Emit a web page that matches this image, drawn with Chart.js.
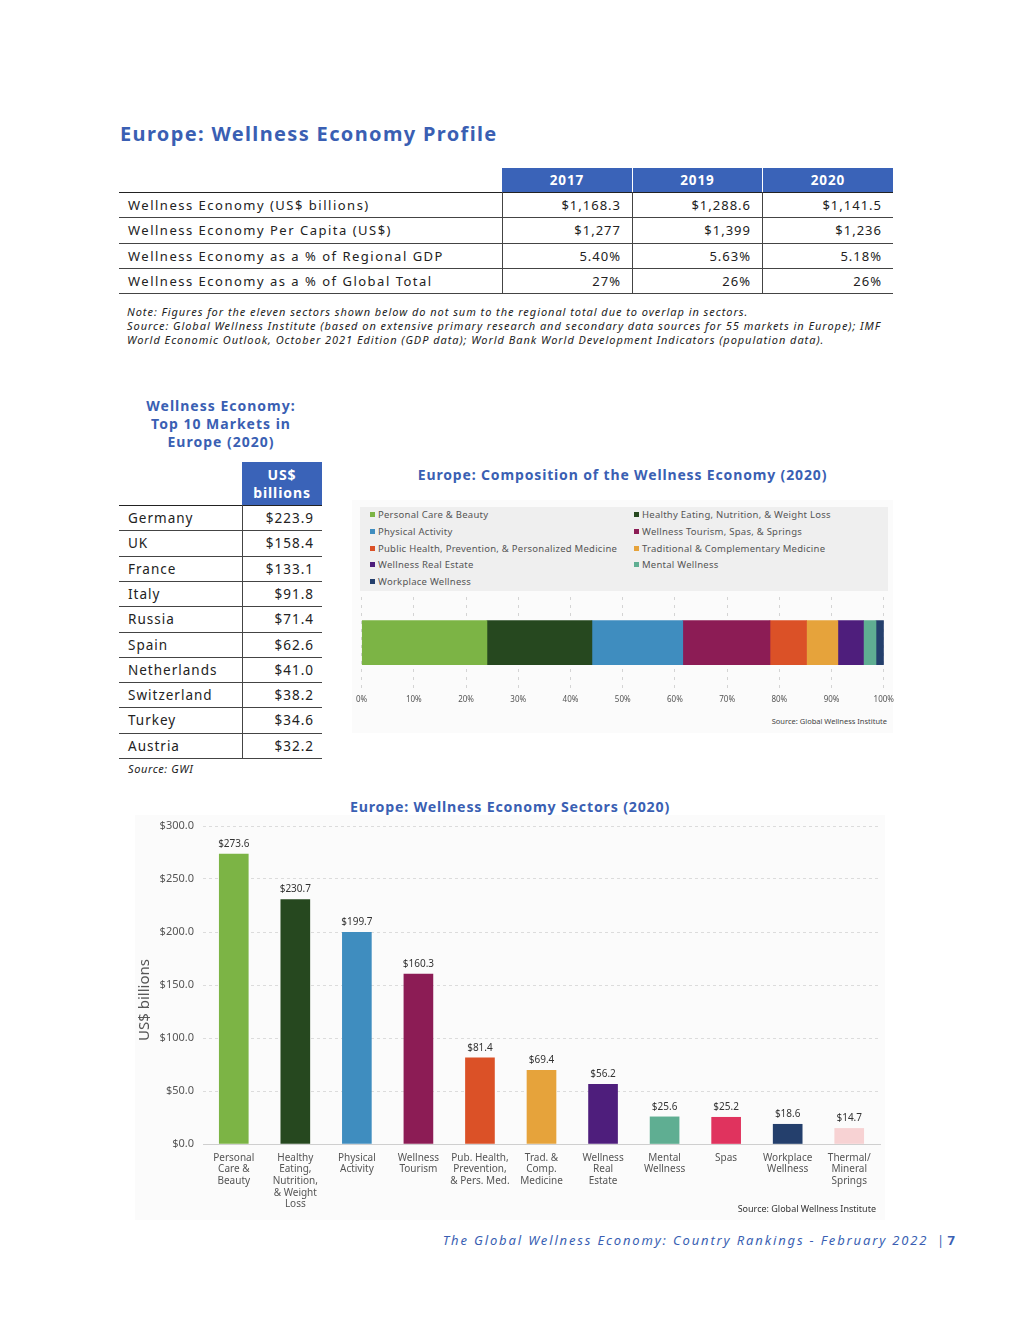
<!DOCTYPE html>
<html>
<head>
<meta charset="utf-8">
<script src="https://cdn.jsdelivr.net/npm/chart.js@4.4.0/dist/chart.umd.min.js"></script>
<style>
  body { margin: 0; background: #fff; font-family: "Noto Sans", sans-serif; color: #222; }
  #page { position: relative; width: 1020px; height: 1320px; }
  .abs { position: absolute; }
  .blue { color: #3a5fb3; }
  .title { font-weight: bold; letter-spacing: 0.9px; }
  .cell { position: absolute; font-size: 13px; letter-spacing: 1.5px; line-height: 25px; white-space: nowrap; }
  .hline { position: absolute; height: 1px; background: #444; }
  .vline { position: absolute; width: 1px; background: #444; }
  .hdr { position: absolute; background: #3a63b8; color: #fff; font-weight: bold; text-align: center; letter-spacing: 0.9px; }
  .note { font-size: 11px; font-style: italic; color: #222; line-height: 14px; letter-spacing: 0.95px; white-space: nowrap; }
  #legend { position: absolute; left: 360px; top: 507px; width: 528px; height: 84px; background: #efefef;
            display: grid; grid-template-columns: 264px 264px; grid-auto-rows: 16.8px; box-sizing: border-box; }
  #legend div { font-size: 9.5px; color: #555; padding-left: 10px; line-height: 16.8px; white-space: nowrap; letter-spacing: 0.25px; }
  #legend span { display: inline-block; width: 5px; height: 5px; margin-right: 3px; vertical-align: 1px; }
</style>
</head>
<body>
<div id="page">
  <div class="abs title blue" style="left:120px; top:120px; font-size:20px; letter-spacing:1.35px;">Europe: Wellness Economy Profile</div>
  <div id="profile"></div>
  <div class="abs note" style="left:127px; top:305px;">Note: Figures for the eleven sectors shown below do not sum to the regional total due to overlap in sectors.<br>Source: Global Wellness Institute (based on extensive primary research and secondary data sources for 55 markets in Europe); IMF<br>World Economic Outlook, October 2021 Edition (GDP data); World Bank World Development Indicators (population data).</div>

  <div class="abs title blue" style="left:111px; top:397px; width:220px; text-align:center; font-size:14px; line-height:18px; letter-spacing:1.0px;">Wellness Economy:<br>Top 10 Markets in<br>Europe (2020)</div>
  <div id="top10"></div>
  <div class="abs note" style="left:128px; top:762px; letter-spacing:0.6px;">Source: GWI</div>

  <div class="abs title blue" style="left:352px; top:465px; width:541px; text-align:center; font-size:14px; letter-spacing:0.85px;">Europe: Composition of the Wellness Economy (2020)</div>
  <div class="abs" style="left:352px; top:500px; width:541px; height:233px; background:#fbfbfb;"></div>
  <div id="legend"></div>
  <canvas id="compChart" class="abs" width="552" height="119" style="left:349px; top:593px;"></canvas>
  <div class="abs" style="left:600px; top:716px; width:287px; text-align:right; font-size:7.5px; color:#444;">Source: Global Wellness Institute</div>

  <div class="abs title blue" style="left:135px; top:797px; width:750px; text-align:center; font-size:14.2px; letter-spacing:0.8px;">Europe: Wellness Economy Sectors (2020)</div>
  <div class="abs" style="left:135px; top:815px; width:750px; height:405px; background:#fbfbfb;"></div>
  <canvas id="sectorChart" class="abs" width="750" height="405" style="left:135px; top:815px;"></canvas>
  <div class="abs" style="left:93px; top:990px; width:100px; height:20px; line-height:20px; text-align:center; font-size:15px; color:#555; transform:rotate(-90deg);">US$ billions</div>
  <div class="abs" style="left:600px; top:1202px; width:276px; text-align:right; font-size:9px; color:#333;">Source: Global Wellness Institute</div>

  <div class="abs blue" style="left:250px; top:1231px; width:705px; text-align:right; font-size:13px; font-style:italic; letter-spacing:1.85px; white-space:nowrap;">The Global Wellness Economy: Country Rankings - February 2022 <span style="font-style:normal;letter-spacing:0;">&nbsp;|</span><b style="font-style:normal;letter-spacing:0;">&nbsp;7</b></div>
</div>

<script>
// profile table
const profileYears = ["2017", "2019", "2020"];
const profileRows = [
  "Wellness Economy (US$ billions)",
  "Wellness Economy Per Capita (US$)",
  "Wellness Economy as a % of Regional GDP",
  "Wellness Economy as a % of Global Total",
];
const profileValues = [
  ["$1,168.3", "$1,288.6", "$1,141.5"],
  ["$1,277", "$1,399", "$1,236"],
  ["5.40%", "5.63%", "5.18%"],
  ["27%", "26%", "26%"],
];

// top 10 markets
const topCountries = ["Germany", "UK", "France", "Italy", "Russia", "Spain", "Netherlands", "Switzerland", "Turkey", "Austria"];
const topValues = ["$223.9", "$158.4", "$133.1", "$91.8", "$71.4", "$62.6", "$41.0", "$38.2", "$34.6", "$32.2"];

// composition (share of total, %)
const compLabels = [
  "Personal Care & Beauty",
  "Healthy Eating, Nutrition, & Weight Loss",
  "Physical Activity",
  "Wellness Tourism, Spas, & Springs",
  "Public Health, Prevention, & Personalized Medicine",
  "Traditional & Complementary Medicine",
  "Wellness Real Estate",
  "Mental Wellness",
  "Workplace Wellness",
];
const compShares = [24.0, 20.1, 17.4, 16.7, 7.0, 6.0, 4.9, 2.4, 1.5];
const compColors = ["#7cb445", "#26481f", "#3f8dbf", "#8c1c55", "#db5127", "#e6a33b", "#4e1e7c", "#5fae92", "#243f6c"];
const compTicks = [0, 10, 20, 30, 40, 50, 60, 70, 80, 90, 100];

// sectors (US$ billions)
const sectorLabels = [
  ["Personal", "Care &", "Beauty"],
  ["Healthy", "Eating,", "Nutrition,", "& Weight", "Loss"],
  ["Physical", "Activity"],
  ["Wellness", "Tourism"],
  ["Pub. Health,", "Prevention,", "& Pers. Med."],
  ["Trad. &", "Comp.", "Medicine"],
  ["Wellness", "Real", "Estate"],
  ["Mental", "Wellness"],
  ["Spas"],
  ["Workplace", "Wellness"],
  ["Thermal/", "Mineral", "Springs"],
];
const sectorValues = [273.6, 230.7, 199.7, 160.3, 81.4, 69.4, 56.2, 25.6, 25.2, 18.6, 14.7];
const sectorColors = ["#7cb445", "#26481f", "#3f8dbf", "#8c1c55", "#db5127", "#e6a33b", "#4e1e7c", "#5fae92", "#e0335e", "#243f6c", "#f7d2d3"];

// ---- build the profile table
const profile = document.getElementById("profile");
let html = "";
const colLeft = [502, 633, 763];
const colRight = [632, 762, 893];
profileYears.forEach((y, i) => {
  html += `<div class="hdr" style="left:${colLeft[i]}px; top:168px; width:${colRight[i] - colLeft[i]}px; height:24px; line-height:25px; font-size:13.5px;">${y}</div>`;
});
const rowTops = [192, 217, 243, 268, 293];
html += `<div class="hline" style="left:119px; top:192px; width:774px; background:#222;"></div>`;
profileRows.forEach((r, i) => {
  const top = rowTops[i];
  html += `<div class="cell" style="left:128px; top:${top + 1}px;">${r}</div>`;
  profileValues[i].forEach((v, j) => {
    html += `<div class="cell" style="left:${colLeft[j]}px; width:${colRight[j] - colLeft[j] - 11}px; top:${top + 1}px; text-align:right; letter-spacing:1px;">${v}</div>`;
  });
  html += `<div class="hline" style="left:119px; top:${rowTops[i + 1]}px; width:774px;"></div>`;
});
[502, 632, 762].forEach((x) => {
  html += `<div class="vline" style="left:${x}px; top:192px; height:101px;"></div>`;
});
profile.innerHTML = html;

// ---- build the top 10 table
const top10 = document.getElementById("top10");
html = `<div class="hdr" style="left:242px; top:462px; width:80px; height:43px; font-size:14px; line-height:18px; padding-top:4px; box-sizing:border-box;">US$<br>billions</div>`;
html += `<div class="hline" style="left:119px; top:505px; width:203px; background:#222;"></div>`;
topCountries.forEach((c, i) => {
  const top = 505 + i * 25.3;
  html += `<div class="cell" style="left:128px; top:${top + 1}px; font-size:13.5px; letter-spacing:1px;">${c}</div>`;
  html += `<div class="cell" style="left:242px; width:72px; top:${top + 1}px; text-align:right; font-size:13.5px; letter-spacing:1px;">${topValues[i]}</div>`;
  html += `<div class="hline" style="left:119px; top:${top + 25.3}px; width:203px;"></div>`;
});
html += `<div class="vline" style="left:242px; top:505px; height:253px;"></div>`;
top10.innerHTML = html;

// ---- legend for composition chart
const legend = document.getElementById("legend");
legend.innerHTML = compLabels
  .map((l, i) => `<div><span style="background:${compColors[i]}"></span>${l}</div>`)
  .join("");

Chart.defaults.font.family = '"Noto Sans", sans-serif';
Chart.defaults.animation = false;

// ---- composition chart
new Chart(document.getElementById("compChart"), {
  type: "bar",
  data: {
    labels: ["Europe"],
    datasets: compLabels.map((l, i) => ({
      label: l,
      data: [compShares[i]],
      backgroundColor: compColors[i],
      barThickness: 44,
      borderWidth: 0,
    })),
  },
  options: {
    indexAxis: "y",
    responsive: false,
    devicePixelRatio: 1,
    layout: { padding: { left: 12, right: 12, top: 4, bottom: 0 } },
    plugins: { legend: { display: false }, tooltip: { enabled: false } },
    scales: {
      x: {
        stacked: true,
        min: 0,
        max: 100,
        afterBuildTicks: (s) => { s.ticks = compTicks.map((v) => ({ value: v })); },
        ticks: { callback: (v) => v + "%", font: { size: 8 }, color: "#555", padding: 7 },
        grid: { color: "#d4d4d4", drawTicks: false },
        border: { display: false, dash: [3, 5] },
      },
      y: { stacked: true, display: false },
    },
  },
});

// ---- sectors chart
const valueLabels = {
  id: "valueLabels",
  afterDatasetsDraw(chart) {
    const ctx = chart.ctx;
    const meta = chart.getDatasetMeta(0);
    ctx.save();
    ctx.font = '10px "Noto Sans", sans-serif';
    ctx.fillStyle = "#333";
    ctx.textAlign = "center";
    ctx.textBaseline = "bottom";
    meta.data.forEach((bar, i) => {
      ctx.fillText("$" + sectorValues[i].toFixed(1), bar.x, bar.y - 5);
    });
    ctx.restore();
  },
};

new Chart(document.getElementById("sectorChart"), {
  type: "bar",
  data: {
    labels: sectorLabels,
    datasets: [{ data: sectorValues, backgroundColor: sectorColors, barThickness: 29, borderWidth: 0 }],
  },
  options: {
    responsive: false,
    devicePixelRatio: 1,
    layout: { padding: { left: 0, right: 5, top: 11, bottom: 0 } },
    plugins: { legend: { display: false }, tooltip: { enabled: false } },
    scales: {
      x: {
        grid: { display: false, drawTicks: false },
        border: { color: "#cfcfcf" },
        ticks: { font: { size: 10, lineHeight: 1.17 }, color: "#555", padding: 8, maxRotation: 0, autoSkip: false },
        afterFit: (s) => { s.height = 76; },
      },
      y: {
        min: 0,
        max: 300,
        ticks: { stepSize: 50, callback: (v) => "$" + v.toFixed(1), font: { size: 11 }, color: "#555", padding: 9 },
        grid: { color: "#dcdcdc", drawTicks: false },
        border: { display: false, dash: [3, 3] },
        afterFit: (s) => { s.width = 68; s.paddingTop = 0; s.paddingBottom = 0; },
      },
    },
  },
  plugins: [valueLabels],
});
</script>
</body>
</html>
